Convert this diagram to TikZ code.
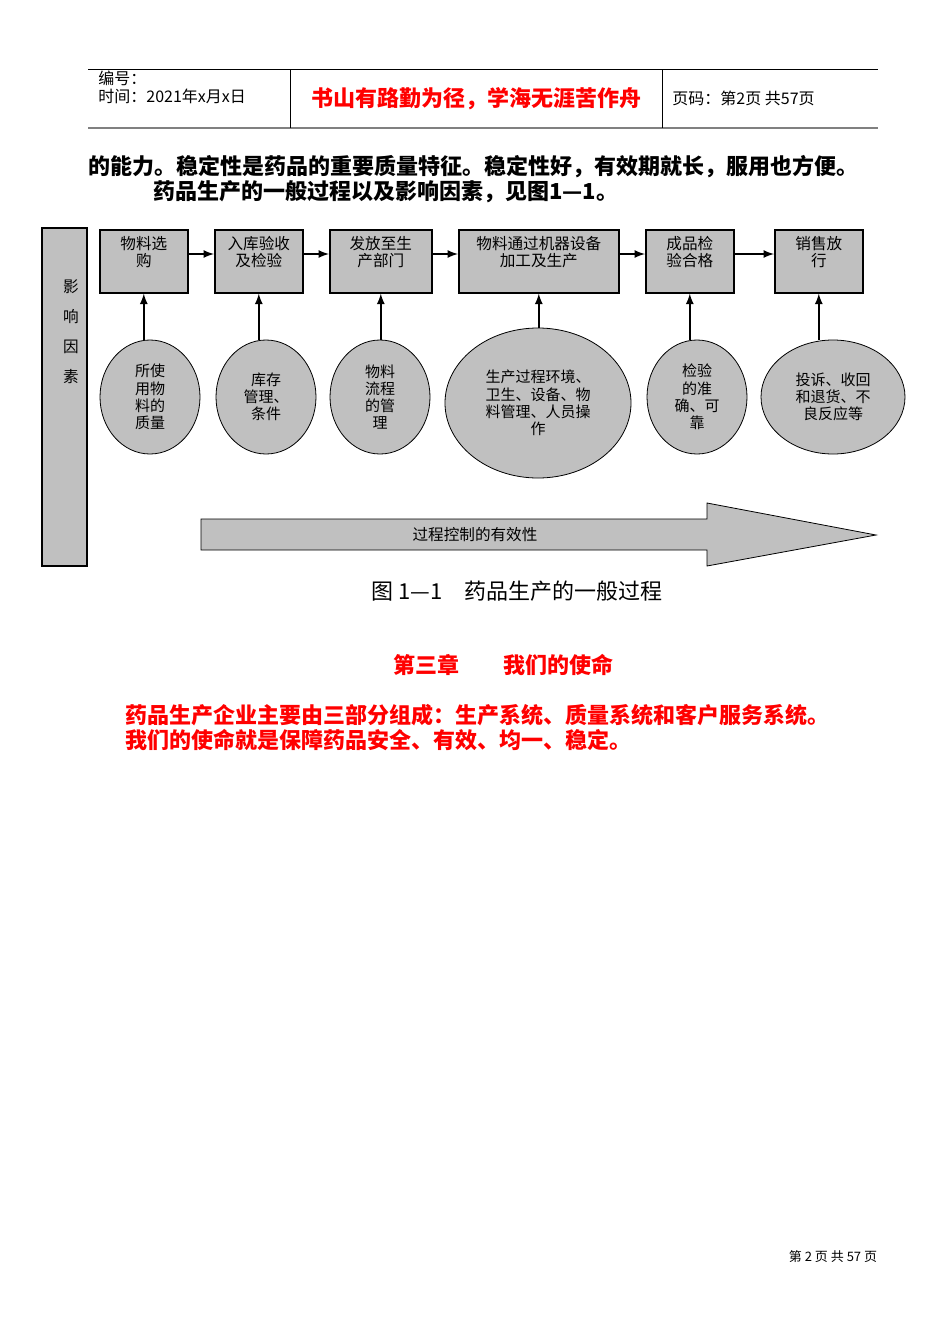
\documentclass[tikz,border=0pt]{standalone}
\usepackage{fontspec}
\setmainfont{Noto Sans CJK SC}
\usetikzlibrary{positioning,shapes.geometric}
\definecolor{boxgray}{RGB}{192,192,192}
\tikzset{
  stepbox/.style={draw,thick,fill=boxgray,minimum height=31.5pt,inner sep=1pt,anchor=north west,
    font=\fontsize{7.8pt}{8.5pt}\selectfont,align=center},
  factor/.style={draw,fill=boxgray,ellipse,font=\fontsize{7.5pt}{8.6pt}\selectfont,align=center,inner sep=0pt},
  flow/.style={-latex,thick}
}
\begin{document}
\begin{tikzpicture}[x=0.5pt,y=-0.5pt]
\useasboundingbox (0,0) rectangle (950,1344);
% header
\draw (88,69) -- (878,69);
\draw[gray,thick] (88,128) -- (878,128);
\draw (290,69) -- (290,128);
\draw (662,69) -- (662,128);
\node[anchor=west,font=\fontsize{8pt}{9pt}\selectfont,inner sep=0] (num) at (98,78) {编号：};
\node[anchor=west,font=\fontsize{8pt}{9pt}\selectfont,inner sep=0] (date) at (98,96) {时间：2021年x月x日};
\node[red,font=\fontsize{11pt}{12pt}\selectfont\bfseries,inner sep=0] (motto) at (476,99) {书山有路勤为径，学海无涯苦作舟};
\node[anchor=west,font=\fontsize{8pt}{9pt}\selectfont,inner sep=0] (page) at (672,98) {页码：第2页 共57页};
% text
\node[anchor=west,font=\fontsize{11pt}{12pt}\selectfont\bfseries,inner sep=0] (l1) at (88,167) {的能力。稳定性是药品的重要质量特征。稳定性好，有效期就长，服用也方便。};
\node[anchor=west,font=\fontsize{11pt}{12pt}\selectfont\bfseries,inner sep=0] (l2) at (153,192) {药品生产的一般过程以及影响因素，见图1—1。};
% diagram
\draw[thick,fill=boxgray] (42,228) rectangle (87,566);
\foreach \c [count=\i] in {影,响,因,素}
  \node[font=\fontsize{7.8pt}{8pt}\selectfont] (v\i) at (71,257+30*\i) {\c};
\node[stepbox,minimum width=44pt] (b1) at (99,229) {物料选\\购\\[1pt]};
\node[stepbox,minimum width=44pt] (b2) at (214,229) {入库验收\\及检验\\[1pt]};
\node[stepbox,minimum width=51pt] (b3) at (329,229) {发放至生\\产部门\\[1pt]};
\node[stepbox,minimum width=80pt] (b4) at (458,229) {物料通过机器设备\\加工及生产\\[1pt]};
\node[stepbox,minimum width=44pt] (b5) at (645,229) {成品检\\验合格\\[1pt]};
\node[stepbox,minimum width=44pt] (b6) at (774,229) {销售放\\行\\[1pt]};
\foreach \a/\b in {b1/b2,b2/b3,b3/b4,b4/b5,b5/b6}
  \draw[flow] ([yshift=-12.5pt]\a.north east) -- ([yshift=-12.5pt]\b.north west);
\node[factor,minimum width=50pt,minimum height=57pt] (e1) at (150,397) {所使\\用物\\料的\\质量};
\node[factor,minimum width=50pt,minimum height=57pt] (e2) at (266,397) {库存\\管理、\\条件};
\node[factor,minimum width=50pt,minimum height=57pt] (e3) at (380,397) {物料\\流程\\的管\\理};
\node[factor,minimum width=93pt,minimum height=75pt] (e4) at (538,403) {生产过程环境、\\卫生、设备、物\\料管理、人员操\\作};
\node[factor,minimum width=50pt,minimum height=57pt] (e5) at (697,397) {检验\\的准\\确、可\\靠};
\node[factor,minimum width=72pt,minimum height=57pt] (e6) at (833,397) {投诉、收回\\和退货、不\\良反应等};
\foreach \i in {1,...,6}
  \draw[flow] (b\i.south |- e\i.north) -- (b\i.south);
\draw[fill=boxgray] (201,519) -- (707,519) -- (707,503) -- (876,535) -- (707,566) -- (707,550) -- (201,550) -- cycle;
\node[font=\fontsize{7.8pt}{8pt}\selectfont] (ctrltext) at (475,535) {过程控制的有效性};
\node[font=\fontsize{11pt}{12pt}\selectfont] (cap) at (517,591) {图 1—1\quad 药品生产的一般过程};
% chapter
\node[red,font=\fontsize{11pt}{12pt}\selectfont\bfseries] (chap) at (503,665) {第三章\qquad 我们的使命};
\node[anchor=west,red,font=\fontsize{11pt}{12pt}\selectfont\bfseries,inner sep=0] (r1) at (125,715) {药品生产企业主要由三部分组成：生产系统、质量系统和客户服务系统。};
\node[anchor=west,red,font=\fontsize{11pt}{12pt}\selectfont\bfseries,inner sep=0] (r2) at (125,740) {我们的使命就是保障药品安全、有效、均一、稳定。};
\node[font=\fontsize{6.5pt}{7pt}\selectfont] (foot) at (833,1257) {第 2 页 共 57 页};
\end{tikzpicture}
\end{document}
